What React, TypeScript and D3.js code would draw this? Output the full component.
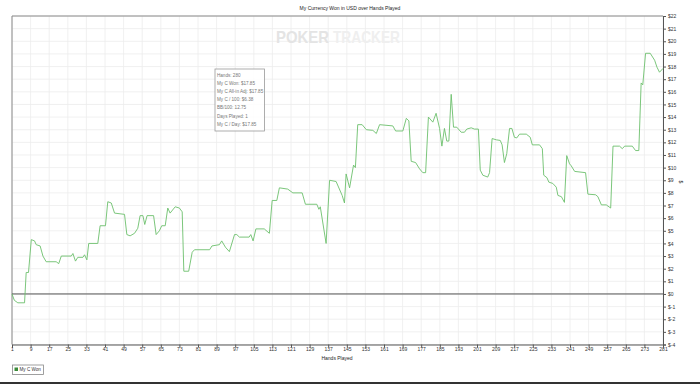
import React, { useEffect, useRef } from "react";
import * as d3 from "d3";

const TITLE = "My Currency Won in USD over Hands Played";
const X_TITLE = "Hands Played";
const Y_TITLE = "$";
const SERIES_NAME = "My C Won";

const hands: number[] = [
  1, 2, 3.5, 6.4, 7.1, 8.1, 9.3, 10.7, 11.4, 13.1, 14.3, 15.7, 20, 21.1, 22.2, 26.5, 27.2, 28.3, 29.3, 31.5,
  32.2, 33.2, 34, 37.9, 38.9, 41.2, 42.2, 43.7, 45.1, 49.4, 50.4, 51.8, 53.7, 55.1, 56.1, 57.3, 58.1, 59.1,
  61.9, 63, 64.4, 65.4, 66.9, 68, 69, 71.2, 73, 74.2, 74.9, 77, 78.5, 79.5, 86, 87, 90.2, 91.2, 92.8, 94.5,
  96.7, 97.7, 98.8, 103, 103.7, 104.7, 105.9, 109.5, 111.7, 112.9, 114.9, 116, 119.6, 121.8, 125.8, 127.2,
  132.1, 133, 133.6, 136.1, 137.6, 140.4, 143, 144, 144.7, 146.2, 147.9, 148.7, 149.7, 151.6, 153.4, 156.2,
  157.7, 159.1, 164.8, 166, 169.1, 170.6, 171.7, 172.7, 174.6, 176.3, 177.7, 178.9, 180.1, 182, 183.4, 184.9,
  185.9, 187, 188, 188.9, 189.9, 190.9, 192.3, 194.2, 195.6, 196.6, 198.5, 199.9, 201.6, 202.4, 203.5, 205.6,
  206.4, 207.5, 209.3, 211, 211.8, 212.8, 213.8, 215, 216, 217.1, 218.1, 219.3, 222.2, 223.9, 224.8, 227.9,
  229.1, 229.7, 231.1, 231.9, 233.6, 235.1, 235.8, 237.3, 238.6, 239.6, 240.8, 241.5, 243, 247.7, 248.7, 252,
  253, 254.5, 256.6, 258.5, 259.5, 262.3, 263.5, 264.5, 267.8, 269.2, 270.6, 271.6, 272.3, 273.5, 275.5,
  277.4, 278.4, 279.5, 281,
];

const won: number[] = [
  0, -0.5, -0.7, -0.7, 1.7, 1.7, 4.3, 4.2, 3.9, 3.8, 3.0, 2.55, 2.55, 2.4, 3.0, 3.0, 3.2, 2.6, 2.9, 2.9,
  3.1, 2.7, 4.0, 4.0, 5.4, 5.4, 7.3, 7.2, 6.4, 6.3, 4.7, 4.6, 4.8, 5.2, 6.2, 6.2, 5.5, 6.2,
  6.2, 4.7, 5.0, 5.4, 5.4, 6.8, 6.4, 6.9, 6.8, 6.5, 1.8, 1.8, 3.3, 3.5, 3.5, 3.8, 3.9, 4.2, 3.7, 3.35,
  4.7, 4.7, 4.5, 4.5, 4.7, 4.2, 5.15, 5.15, 4.8, 7.4, 7.4, 8.4, 8.3, 8.0, 8.0, 7.1,
  7.1, 6.7, 6.9, 4.0, 9.0, 8.9, 7.8, 7.2, 9.5, 8.4, 10.2, 10.0, 13.4, 13.4, 13.0, 12.95,
  12.7, 13.4, 13.3, 12.9, 12.9, 13.9, 13.7, 10.5, 10.4, 9.9, 9.6, 9.6, 14.0, 13.6, 14.3, 13.1,
  11.7, 13.1, 12.1, 12.1, 15.8, 13.2, 13.2, 12.8, 12.8, 13.05, 13.15, 13.05, 13.05, 9.8, 9.4, 9.25,
  9.6, 12.3, 12.2, 12.15, 11.8, 10.4, 11.1, 13.1, 13.1, 12.4, 12.35, 12.65, 12.65, 12.4, 11.8, 11.8,
  11.5, 9.4, 9.2, 8.85, 8.75, 8.45, 7.8, 7.7, 7.25, 10.95, 10.3, 10.15, 9.7, 9.6, 7.9, 7.85,
  7.7, 7.05, 7.05, 6.8, 11.7, 11.7, 11.5, 11.7, 11.7, 11.35, 11.35, 16.7, 16.55, 19.05, 19.05,
  18.5, 17.95, 17.55, 17.85,
];

const xTicks: number[] = d3.range(1, 282, 8);
const yTicks: number[] = d3.range(-4, 23, 1);

const tooltipLines: string[] = [
  "Hands: 280",
  "My C Won: $17.85",
  "My C All-in Adj: $17.85",
  "My C / 100: $6.38",
  "BB/100: 12.75",
  "Days Played: 1",
  "My C / Day: $17.85",
];

const W = 700;
const H = 384;
const M = { left: 12, right: 663, top: 16, bottom: 344.5 };
const FONT = "Arial, 'Liberation Sans', sans-serif";

export default function App() {
  const ref = useRef<SVGSVGElement | null>(null);

  useEffect(() => {
    const svg = d3.select(ref.current);
    svg.selectAll("*").remove();

    const x = d3.scaleLinear().domain([1, 281]).range([M.left, M.right]);
    const y = d3.scaleLinear().domain([-4, 22]).range([M.bottom, M.top]);

    svg.append("rect").attr("width", W).attr("height", H).attr("fill", "#fff");

    // grid
    const grid = svg.append("g").attr("stroke", "#ececec").attr("stroke-width", 0.8);
    grid.selectAll("line.v").data(xTicks).join("line")
      .attr("x1", (d) => x(d)).attr("x2", (d) => x(d))
      .attr("y1", M.top).attr("y2", M.bottom);
    grid.selectAll("line.h").data(yTicks).join("line")
      .attr("x1", M.left).attr("x2", M.right)
      .attr("y1", (d) => y(d)).attr("y2", (d) => y(d));

    // watermark
    svg.append("text")
      .attr("x", 276).attr("y", 43)
      .attr("font-family", FONT).attr("font-weight", "bold")
      .attr("font-size", 17).attr("textLength", 53).attr("lengthAdjust", "spacingAndGlyphs")
      .attr("fill", "#e4e4e4").text("POKER");
    svg.append("text")
      .attr("x", 333).attr("y", 43)
      .attr("font-family", FONT).attr("font-weight", "bold")
      .attr("font-size", 17).attr("textLength", 67).attr("lengthAdjust", "spacingAndGlyphs")
      .attr("fill", "#efefef").text("TRACKER");

    // plot border top and left
    svg.append("line").attr("x1", M.left).attr("x2", M.right).attr("y1", M.top).attr("y2", M.top)
      .attr("stroke", "#8a8a8a").attr("stroke-width", 1);
    svg.append("line").attr("x1", M.left).attr("x2", M.left).attr("y1", M.top).attr("y2", M.bottom)
      .attr("stroke", "#8a8a8a").attr("stroke-width", 1);

    // zero line
    svg.append("line").attr("x1", M.left).attr("x2", M.right).attr("y1", y(0)).attr("y2", y(0))
      .attr("stroke", "#555").attr("stroke-width", 1);

    // axes
    const xAxis = d3.axisBottom(x).tickValues(xTicks).tickSize(3).tickFormat((d) => String(d));
    const gx = svg.append("g").attr("transform", `translate(0,${M.bottom})`).call(xAxis);
    gx.select(".domain").attr("stroke", "#555");
    gx.selectAll(".tick line").attr("stroke", "#555");
    gx.selectAll("text").attr("font-size", 5).attr("font-family", FONT).attr("fill", "#333").attr("dy", "0.9em").attr("y", 2);

    const yAxis = d3.axisRight(y).tickValues(yTicks).tickSize(3).tickFormat((d) => "$" + d);
    const gy = svg.append("g").attr("transform", `translate(${M.right},0)`).call(yAxis);
    gy.select(".domain").attr("stroke", "#555");
    gy.selectAll(".tick line").attr("stroke", "#555");
    gy.selectAll("text").attr("font-size", 5).attr("font-family", FONT).attr("fill", "#333").attr("x", 5);

    // line
    const pts = hands.map((h, i) => [h, won[i]] as [number, number]);
    const line = d3.line<[number, number]>().x((d) => x(d[0])).y((d) => y(d[1]));
    svg.append("path").attr("d", line(pts) as string)
      .attr("fill", "none").attr("stroke", "#6cc06c").attr("stroke-width", 0.9);

    // titles
    svg.append("text").attr("x", 350).attr("y", 9.5).attr("text-anchor", "middle")
      .attr("font-size", 5).attr("font-family", FONT).attr("fill", "#222").text(TITLE);
    svg.append("text").attr("x", 337).attr("y", 359.5).attr("text-anchor", "middle")
      .attr("font-size", 5).attr("font-family", FONT).attr("fill", "#222").text(X_TITLE);
    svg.append("text").attr("transform", `translate(679,182) rotate(90)`).attr("text-anchor", "middle")
      .attr("font-size", 5).attr("font-family", FONT).attr("fill", "#222").text(Y_TITLE);

    // tooltip box
    const tb = svg.append("g");
    tb.append("rect").attr("x", 215).attr("y", 69).attr("width", 49.5).attr("height", 62)
      .attr("fill", "#fff").attr("fill-opacity", 0.85).attr("stroke", "#999").attr("stroke-width", 0.8);
    tb.selectAll("text").data(tooltipLines).join("text")
      .attr("x", 217).attr("y", (_d, i) => 76.5 + i * 8.2)
      .attr("font-size", 4.6).attr("font-family", FONT).attr("fill", "#777").text((d) => d);

    // legend
    const lg = svg.append("g");
    lg.append("rect").attr("x", 12.5).attr("y", 365).attr("width", 31).attr("height", 9.5)
      .attr("fill", "#fff").attr("stroke", "#888").attr("stroke-width", 0.8);
    lg.append("rect").attr("x", 14.5).attr("y", 367.5).attr("width", 3.5).attr("height", 3.5)
      .attr("fill", "#3a8a3a");
    lg.append("text").attr("x", 19.5).attr("y", 371.3)
      .attr("font-size", 4.6).attr("font-family", FONT).attr("fill", "#333").text(SERIES_NAME);

    // bottom frame line
    svg.append("line").attr("x1", 0).attr("x2", W).attr("y1", 383).attr("y2", 383)
      .attr("stroke", "#333").attr("stroke-width", 2);
  }, []);

  return (
    <svg ref={ref} width={W} height={H}
      style={{ position: "absolute", left: 0, top: 0, display: "block" }} />
  );
}
